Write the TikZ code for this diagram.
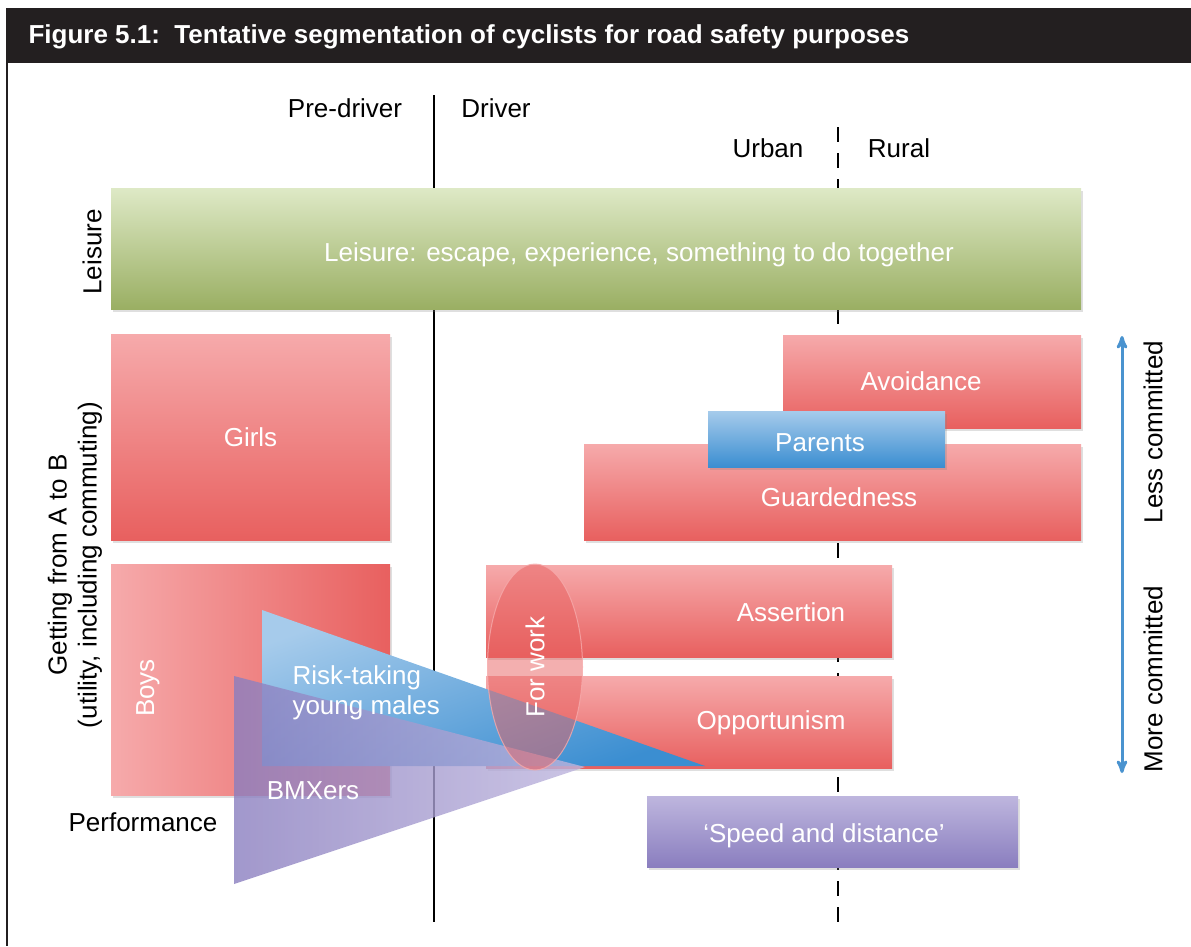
\documentclass[tikz,border=0pt]{standalone}
\usepackage{fontspec}
\setmainfont{Liberation Sans}
\usetikzlibrary{arrows}
\usetikzlibrary{positioning}
\usetikzlibrary{shadows}
\usetikzlibrary{shapes.geometric}

\definecolor{barcol}{HTML}{231F20}
\definecolor{redtop}{HTML}{F6AAAB}
\definecolor{redbot}{HTML}{E8605F}
\definecolor{greentop}{HTML}{DEE9C6}
\definecolor{greenbot}{HTML}{9AAF63}
\definecolor{bluetop}{HTML}{A6CBEB}
\definecolor{bluebot}{HTML}{3B8ED1}
\definecolor{purptop}{HTML}{BEB6DE}
\definecolor{purpbot}{HTML}{8A7EBF}
\definecolor{arrowblue}{HTML}{4A93CF}

\tikzset{
  txt/.style={font=\fontsize{26}{30}\selectfont},
  boxtxt/.style={txt, text=white},
  box/.style={rectangle, inner sep=0pt, boxtxt,
    drop shadow={shadow xshift=1.5pt, shadow yshift=-2.5pt, opacity=0.25}},
  redbox/.style={box, top color=redtop, bottom color=redbot},
  greenbox/.style={box, top color=greentop, bottom color=greenbot},
  bluebox/.style={box, top color=bluetop, bottom color=bluebot},
  purpbox/.style={box, top color=purptop, bottom color=purpbot},
}

\begin{document}
\begin{tikzpicture}[line cap=butt,line join=round,>=stealth',x=1pt,y=-1pt]
\useasboundingbox (0,0) rectangle (1191,946);
% heading bar and frame
\fill [barcol] (6,8) rectangle (1191,63);
\node [anchor=west, text=white, font=\fontsize{26}{30}\selectfont\bfseries] (title) at (25,37)
  {Figure 5.1:\ \ Tentative segmentation of cyclists for road safety purposes};
\draw [line width=2pt, barcol] (7,63) -- (7,946);

% dividing lines
\draw [line width=2.8pt] (434,95) -- (434,922);
\draw [line width=2.8pt, dash pattern=on 15pt off 11pt] (838,127) -- (838,922);
\node [txt] (predriver) at (345,108) {Pre-driver};
\node [txt] (driver) at (496,108) {Driver};
\node [txt] (urban) at (768,148) {Urban};
\node [txt] (rural) at (899,148) {Rural};

% side labels
\node [txt, rotate=90] (leisurelab) at (92,252) {Leisure};
\node [txt, rotate=90, align=center] (getting) at (75,565) {Getting from A to B\\(utility, including commuting)};
\node [txt] (perf) at (143,822) {Performance};

% segments
\node [greenbox, minimum width=970, minimum height=121] (leisure) at (596,248.5) {};
\node [boxtxt] (leisuretxt) at (639,255) {Leisure: escape, experience, something to do together};
\node [redbox, minimum width=279, minimum height=206] (girls) at (250.5,437) {Girls};
\node [box, left color=redtop, right color=redbot, minimum width=279, minimum height=231] (boys) at (250.5,679.5) {};
\node [boxtxt, rotate=90] (boystxt) at (148,688) {Boys};
\node [redbox, minimum width=298, minimum height=93] (avoid) at (932,381.5) {};
\node [boxtxt] (avoidtxt) at (921,381) {Avoidance};
\node [redbox, minimum width=497, minimum height=96] (guard) at (832.5,492) {};
\node [boxtxt] (guardtxt) at (839,497) {Guardedness};
\node [bluebox, minimum width=237, minimum height=56] (parents) at (826.5,439) {};
\node [boxtxt] (parentstxt) at (820,443) {Parents};
\node [redbox, minimum width=406, minimum height=92] (assert) at (689,611) {};
\node [boxtxt] (asserttxt) at (791,612) {Assertion};
\node [redbox, minimum width=406, minimum height=92] (opport) at (689,722) {};
\node [boxtxt] (opporttxt) at (771,723) {Opportunism};
\node [purpbox, minimum width=371, minimum height=71] (speed) at (832.5,831.5) {};
\node [boxtxt] (speedtxt) at (824,836) {‘Speed and distance’};

% risk-taking and BMX wedges
\path [top color=bluetop, bottom color=bluebot, shading angle=20] (262,610) -- (262,766) -- (705,766) -- cycle;
\path [left color=purpbot, right color=purptop, fill opacity=0.8] (234,676) -- (234,884) -- (585,767) -- cycle;
\node [boxtxt, anchor=west, align=left] (risk) at (289,693) {Risk-taking\\young males};
\node [boxtxt] (bmx) at (313,791) {BMXers};

% commuting to work
\node [ellipse, rotate=90, minimum width=206, minimum height=95, fill=redbot, fill opacity=0.5,
  draw=redtop, draw opacity=0.8, line width=1pt, boxtxt, text opacity=1] (work) at (535,667) {For work};

% commitment axis
\coordinate (lesstop) at (1122,336);
\coordinate (morebot) at (1122,773);
\draw [<->, line width=3pt, arrowblue] (lesstop) -- (morebot);
\node [txt, rotate=90] (less) at (1153,432) {Less committed};
\node [txt, rotate=90] (more) at (1153,679) {More committed};
\end{tikzpicture}
\end{document}
